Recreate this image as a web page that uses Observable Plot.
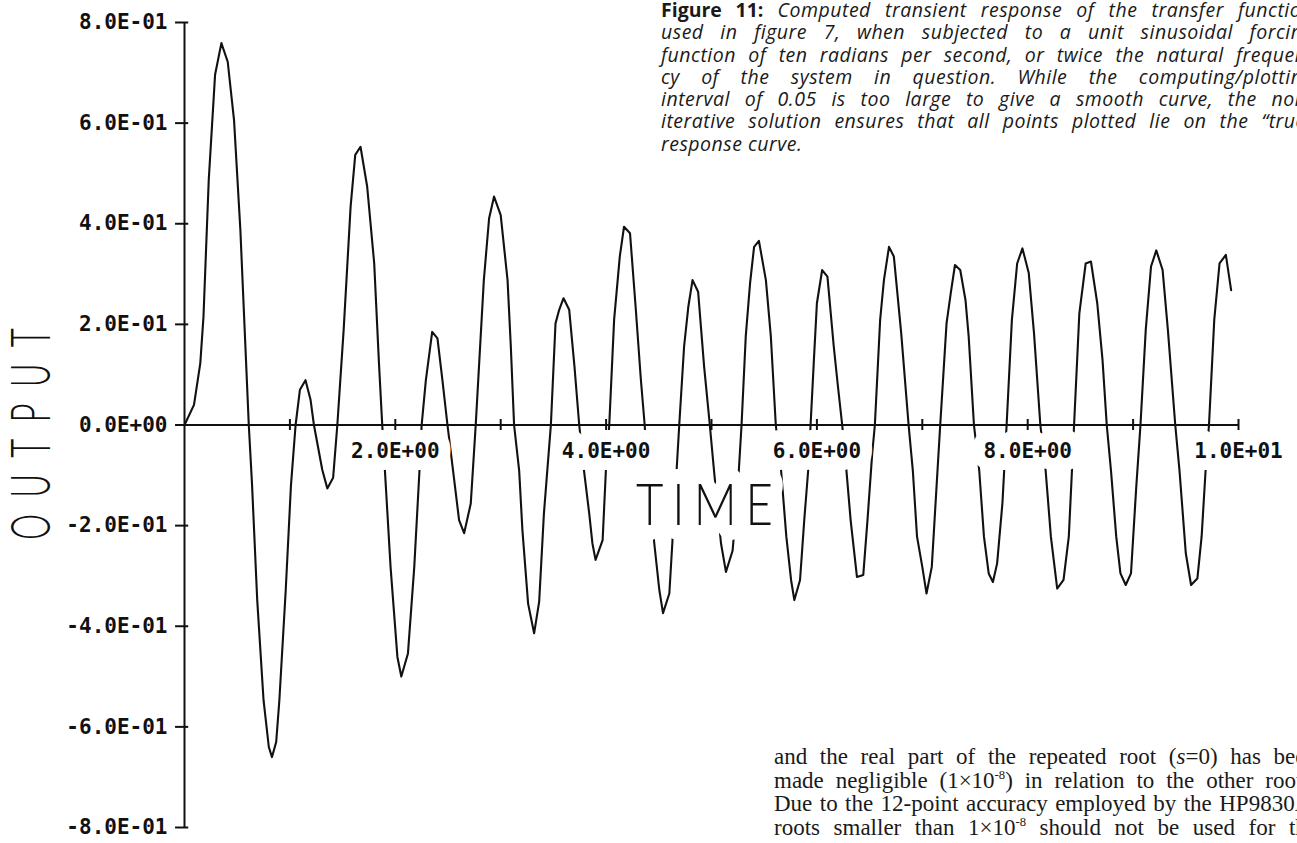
<!DOCTYPE html>
<html>
<head>
<meta charset="utf-8">
<script src="https://cdn.jsdelivr.net/npm/d3@7"></script>
<script src="https://cdn.jsdelivr.net/npm/@observablehq/plot@0.6"></script>
<style>
  html, body { margin: 0; padding: 0; background: #fff; }
  body { width: 1297px; height: 843px; overflow: hidden; position: relative; }
  #chart { position: absolute; left: 0; top: 0; }
  .cap { position: absolute; left: 661px; top: -1px; width: 652px;
         font-family: "Open Sans", "Noto Sans", sans-serif; font-style: italic;
         font-size: 19.5px; line-height: 22.3px; letter-spacing: 0.5px; color: #1a1a1a; }
  .cap b { font-style: normal; font-weight: 700; letter-spacing: 0; }
  .body { position: absolute; left: 774px; top: 745px; width: 543px;
          font-family: "Liberation Serif", "DejaVu Serif", serif;
          font-size: 23px; line-height: 23.5px; color: #1a1a1a; }
  .ln { white-space: nowrap; text-align: justify; text-align-last: justify; }
  .last { white-space: nowrap; text-align: left; }
  sup { font-size: 0.55em; line-height: 0; vertical-align: 0.7em; }
</style>
</head>
<body>
<div id="chart"></div>
<div class="cap">
  <div class="ln"><b>Figure&nbsp;11:</b> Computed transient response of the transfer function</div>
  <div class="ln">used in figure 7, when subjected to a unit sinusoidal forcing</div>
  <div class="ln">function of ten radians per second, or twice the natural frequen-</div>
  <div class="ln">cy of the system in question. While the computing/plotting</div>
  <div class="ln">interval of 0.05 is too large to give a smooth curve, the non-</div>
  <div class="ln">iterative solution ensures that all points plotted lie on the “true”</div>
  <div class="last">response curve.</div>
</div>
<div class="body">
  <div class="ln">and the real part of the repeated root (<i>s</i>=0) has been</div>
  <div class="ln">made negligible (1×10<sup>-8</sup>) in relation to the other roots.</div>
  <div class="ln">Due to the 12-point accuracy employed by the HP9830A,</div>
  <div class="ln">roots smaller than 1×10<sup>-8</sup> should not be used for the</div>
</div>
<script>
// ---- data (time in s, output) ----
const time = [
  0, 0.09, 0.15, 0.18, 0.23, 0.29, 0.35, 0.41, 0.47, 0.53, 0.61,
  0.64, 0.69, 0.75, 0.80, 0.83, 0.87, 0.90, 0.96, 1.01, 1.054,
  1.095, 1.148, 1.196, 1.228,
  1.307, 1.355, 1.41, 1.45,
  1.51, 1.576, 1.62, 1.67, 1.733, 1.80, 1.845, 1.876,
  1.91, 1.955, 2.02, 2.057, 2.12, 2.18, 2.23, 2.25,
  2.29, 2.35, 2.40, 2.447, 2.495,
  2.557, 2.605, 2.653, 2.716, 2.763,
  2.84, 2.89, 2.937, 3.0, 3.065, 3.096, 3.127,
  3.175, 3.206, 3.26, 3.317, 3.365, 3.41, 3.476,
  3.52, 3.555, 3.596, 3.65, 3.70, 3.745,
  3.79, 3.84, 3.87, 3.90, 3.967, 3.998, 4.03,
  4.076, 4.13, 4.17, 4.227, 4.28, 4.33, 4.366,
  4.39, 4.457, 4.505, 4.54, 4.60, 4.63, 4.67, 4.694,
  4.74, 4.78, 4.82, 4.873, 4.93, 4.984,
  5.025, 5.09, 5.137, 5.2, 5.245, 5.285,
  5.325, 5.366, 5.404, 5.45, 5.516, 5.563, 5.61,
  5.66, 5.71, 5.755, 5.786, 5.84, 5.88, 5.92, 5.94,
  5.97, 6.0, 6.05, 6.10, 6.16, 6.2, 6.24,
  6.28, 6.32, 6.38, 6.44, 6.48, 6.525, 6.55,
  6.6, 6.636, 6.684, 6.73, 6.8, 6.87,
  6.91, 6.95, 7.0, 7.04, 7.09, 7.135, 7.17,
  7.23, 7.27, 7.31, 7.36, 7.41, 7.44, 7.49,
  7.54, 7.585, 7.63, 7.67, 7.71, 7.76, 7.8,
  7.85, 7.9, 7.95, 8.01, 8.06, 8.12,
  8.17, 8.22, 8.28, 8.34, 8.39, 8.42, 8.44,
  8.49, 8.55, 8.6, 8.66, 8.71, 8.75,
  8.79, 8.84, 8.88, 8.93, 8.98, 9.03, 9.07,
  9.12, 9.17, 9.22, 9.28, 9.33, 9.4,
  9.44, 9.5, 9.55, 9.61, 9.65, 9.69, 9.72,
  9.77, 9.82, 9.88, 9.93
];
const output = [
  0, 0.04, 0.123, 0.215, 0.487, 0.696, 0.759, 0.722, 0.606, 0.388, 0,
  -0.115, -0.348, -0.547, -0.64, -0.66, -0.63, -0.547, -0.33, -0.12, 0,
  0.07, 0.089, 0.05, 0,
  -0.089, -0.126, -0.105, 0,
  0.189, 0.434, 0.537, 0.553, 0.474, 0.321, 0.123, 0,
  -0.121, -0.282, -0.461, -0.50, -0.454, -0.282, -0.088, 0,
  0.089, 0.185, 0.172, 0.089, 0,
  -0.106, -0.189, -0.215, -0.156, 0,
  0.288, 0.411, 0.454, 0.417, 0.288, 0.156, 0,
  -0.09, -0.209, -0.355, -0.414, -0.351, -0.176, 0,
  0.202, 0.229, 0.252, 0.229, 0.116, 0,
  -0.09, -0.176, -0.235, -0.268, -0.229, -0.09, 0,
  0.209, 0.335, 0.394, 0.381, 0.235, 0.09, 0,
  -0.085, -0.235, -0.328, -0.374, -0.335, -0.229, -0.086, 0,
  0.156, 0.235, 0.288, 0.265, 0.116, 0,
  -0.093, -0.235, -0.292, -0.25, -0.14, 0,
  0.176, 0.282, 0.354, 0.366, 0.288, 0.176, 0,
  -0.09, -0.222, -0.308, -0.348, -0.308, -0.189, -0.083, 0,
  0.123, 0.242, 0.308, 0.295, 0.156, 0.076, 0,
  -0.09, -0.189, -0.302, -0.298, -0.189, -0.056, 0,
  0.209, 0.288, 0.354, 0.335, 0.182, 0,
  -0.09, -0.222, -0.282, -0.335, -0.282, -0.123, 0,
  0.202, 0.262, 0.318, 0.308, 0.248, 0.176, 0,
  -0.09, -0.222, -0.295, -0.312, -0.275, -0.156, 0,
  0.209, 0.321, 0.351, 0.302, 0.182, 0,
  -0.09, -0.222, -0.325, -0.308, -0.222, -0.09, 0,
  0.222, 0.321, 0.325, 0.242, 0.129, 0,
  -0.09, -0.222, -0.295, -0.318, -0.295, -0.123, 0,
  0.189, 0.315, 0.347, 0.308, 0.189, 0,
  -0.09, -0.255, -0.318, -0.305, -0.222, -0.083, 0,
  0.209, 0.321, 0.338, 0.268
];

const xTickValues = [1, 2, 3, 4, 5, 6, 7, 8, 9, 10];
const xLabelValues = [2, 4, 6, 8, 10];
const xLabels = ["2.0E+00", "4.0E+00", "6.0E+00", "8.0E+00", "1.0E+01"];
const yTickValues = [0.8, 0.6, 0.4, 0.2, 0, -0.2, -0.4, -0.6, -0.8];
const yLabels = ["8.0E-01", "6.0E-01", "4.0E-01", "2.0E-01", "0.0E+00",
                 "-2.0E-01", "-4.0E-01", "-6.0E-01", "-8.0E-01"];
const xTitle = "TIME";
const yTitle = "OUTPUT";

const curve = time.map((t, i) => ({t, v: output[i]}));
const mono = "'DejaVu Sans Mono', 'Liberation Mono', monospace";
const thin = "Lato, 'DejaVu Sans', sans-serif";
const ink = "#111";

const W = 1297, H = 843, mL = 184, mR = 59, mT = 22, mB = 16;
const frameMidY = (mT + (H - mB)) / 2;

// condensed, widely spaced plotter-style titles
const titleT = {len: 146, spacing: 11, shift: 5};
const titleO = {len: 228, spacing: 27, shift: 8};

const chart = Plot.plot({
  width: W, height: H,
  marginLeft: mL, marginRight: mR, marginTop: mT, marginBottom: mB,
  x: {domain: [0, 10], axis: null},
  y: {domain: [-0.8, 0.8], axis: null},
  style: {background: "#fff", color: ink, overflow: "visible"},
  marks: [
    Plot.line(curve, {x: "t", y: "v", stroke: ink, strokeWidth: 2.1}),
    Plot.text(xLabelValues, {
      x: d => d, y: 0, text: (d, i) => xLabels[i],
      lineAnchor: "top", dy: 18, fontFamily: mono, fontWeight: "bold", fontSize: 21,
      fill: ink, stroke: "#fff", strokeWidth: 24, strokeLinejoin: "round", paintOrder: "stroke"
    }),
    Plot.text([xTitle], {
      frameAnchor: "left", dx: 703.5 - mL + titleT.shift, dy: 506 - frameMidY,
      textAnchor: "middle", lineAnchor: "middle",
      fontFamily: thin, fontWeight: 300, fontSize: 58,
      fill: ink, stroke: "#fff", strokeWidth: 30, strokeLinejoin: "round", paintOrder: "stroke"
    }),
    Plot.ruleX([0], {y1: -0.8, y2: 0.8, stroke: ink, strokeWidth: 2}),
    Plot.ruleY([0], {x1: 0, x2: 10, stroke: ink, strokeWidth: 2}),
    Plot.ruleY(yTickValues, {x1: -0.085, x2: 0.04, stroke: ink, strokeWidth: 2}),
    Plot.ruleX(xTickValues, {y1: -0.011, y2: 0.011, stroke: ink, strokeWidth: 2}),
    Plot.text(yTickValues, {
      x: 0, y: d => d, text: (d, i) => yLabels[i],
      textAnchor: "end", dx: -17, fontFamily: mono, fontWeight: "bold", fontSize: 21, fill: ink
    }),
    Plot.text([yTitle], {
      frameAnchor: "left", dx: 32 - mL, dy: 433.5 - frameMidY - titleO.shift,
      rotate: -90, textAnchor: "middle", lineAnchor: "middle",
      fontFamily: thin, fontWeight: 300, fontSize: 55, fill: ink
    })
  ]
});

function condense(svg, content, opt) {
  svg.querySelectorAll("text").forEach(el => {
    if (el.textContent !== content) return;
    el.style.letterSpacing = opt.spacing + "px";
    el.setAttribute("textLength", opt.len);
    el.setAttribute("lengthAdjust", "spacingAndGlyphs");
  });
}
condense(chart, xTitle, titleT);
condense(chart, yTitle, titleO);

document.getElementById("chart").appendChild(chart);
</script>
</body>
</html>
